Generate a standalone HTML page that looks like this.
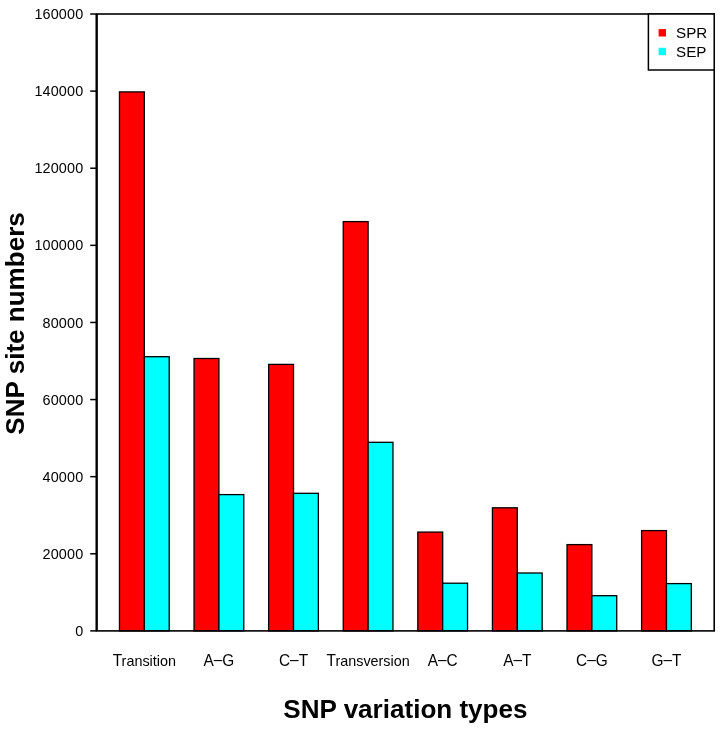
<!DOCTYPE html><html><head><meta charset="utf-8"><style>html,body{margin:0;padding:0;background:#fff}svg{display:block;will-change:transform}text{font-family:"Liberation Sans",sans-serif;fill:#000}</style></head><body>
<svg width="721" height="734" viewBox="0 0 721 734">
<rect width="721" height="734" fill="#fff"/>
<rect x="119.47" y="91.90" width="24.86" height="539.00" fill="#ff0000" stroke="#000" stroke-width="1.3"/>
<rect x="144.34" y="356.70" width="24.86" height="274.20" fill="#00ffff" stroke="#000" stroke-width="1.3"/>
<rect x="194.06" y="358.50" width="24.86" height="272.40" fill="#ff0000" stroke="#000" stroke-width="1.3"/>
<rect x="218.93" y="494.60" width="24.86" height="136.30" fill="#00ffff" stroke="#000" stroke-width="1.3"/>
<rect x="268.65" y="364.40" width="24.86" height="266.50" fill="#ff0000" stroke="#000" stroke-width="1.3"/>
<rect x="293.52" y="493.30" width="24.86" height="137.60" fill="#00ffff" stroke="#000" stroke-width="1.3"/>
<rect x="343.24" y="221.60" width="24.86" height="409.30" fill="#ff0000" stroke="#000" stroke-width="1.3"/>
<rect x="368.11" y="442.30" width="24.86" height="188.60" fill="#00ffff" stroke="#000" stroke-width="1.3"/>
<rect x="417.83" y="532.10" width="24.86" height="98.80" fill="#ff0000" stroke="#000" stroke-width="1.3"/>
<rect x="442.69" y="583.20" width="24.86" height="47.70" fill="#00ffff" stroke="#000" stroke-width="1.3"/>
<rect x="492.42" y="507.80" width="24.86" height="123.10" fill="#ff0000" stroke="#000" stroke-width="1.3"/>
<rect x="517.28" y="573.00" width="24.86" height="57.90" fill="#00ffff" stroke="#000" stroke-width="1.3"/>
<rect x="567.01" y="544.60" width="24.86" height="86.30" fill="#ff0000" stroke="#000" stroke-width="1.3"/>
<rect x="591.87" y="595.70" width="24.86" height="35.20" fill="#00ffff" stroke="#000" stroke-width="1.3"/>
<rect x="641.60" y="530.60" width="24.86" height="100.30" fill="#ff0000" stroke="#000" stroke-width="1.3"/>
<rect x="666.46" y="583.60" width="24.86" height="47.30" fill="#00ffff" stroke="#000" stroke-width="1.3"/>
<rect x="96.6" y="14.0" width="617.60" height="616.90" fill="none" stroke="#000" stroke-width="1.6"/>
<line x1="96.69999999999999" y1="14.0" x2="96.69999999999999" y2="630.9" stroke="#000" stroke-width="2.2"/>
<line x1="90.20" y1="630.90" x2="96.60" y2="630.90" stroke="#000" stroke-width="1.5"/>
<text transform="translate(83.3,636.00) scale(1,1.08)" font-size="14.4" letter-spacing="0.15" text-anchor="end">0</text>
<line x1="90.20" y1="553.79" x2="96.60" y2="553.79" stroke="#000" stroke-width="1.5"/>
<text transform="translate(83.3,558.89) scale(1,1.08)" font-size="14.4" letter-spacing="0.15" text-anchor="end">20000</text>
<line x1="90.20" y1="476.67" x2="96.60" y2="476.67" stroke="#000" stroke-width="1.5"/>
<text transform="translate(83.3,481.77) scale(1,1.08)" font-size="14.4" letter-spacing="0.15" text-anchor="end">40000</text>
<line x1="90.20" y1="399.56" x2="96.60" y2="399.56" stroke="#000" stroke-width="1.5"/>
<text transform="translate(83.3,404.66) scale(1,1.08)" font-size="14.4" letter-spacing="0.15" text-anchor="end">60000</text>
<line x1="90.20" y1="322.45" x2="96.60" y2="322.45" stroke="#000" stroke-width="1.5"/>
<text transform="translate(83.3,327.55) scale(1,1.08)" font-size="14.4" letter-spacing="0.15" text-anchor="end">80000</text>
<line x1="90.20" y1="245.34" x2="96.60" y2="245.34" stroke="#000" stroke-width="1.5"/>
<text transform="translate(83.3,250.44) scale(1,1.08)" font-size="14.4" letter-spacing="0.15" text-anchor="end">100000</text>
<line x1="90.20" y1="168.22" x2="96.60" y2="168.22" stroke="#000" stroke-width="1.5"/>
<text transform="translate(83.3,173.32) scale(1,1.08)" font-size="14.4" letter-spacing="0.15" text-anchor="end">120000</text>
<line x1="90.20" y1="91.11" x2="96.60" y2="91.11" stroke="#000" stroke-width="1.5"/>
<text transform="translate(83.3,96.21) scale(1,1.08)" font-size="14.4" letter-spacing="0.15" text-anchor="end">140000</text>
<line x1="90.20" y1="14.00" x2="96.60" y2="14.00" stroke="#000" stroke-width="1.5"/>
<text transform="translate(83.3,19.10) scale(1,1.08)" font-size="14.4" letter-spacing="0.15" text-anchor="end">160000</text>
<text transform="translate(144.34,665.7) scale(1,1.05)" font-size="14.4" text-anchor="middle"><tspan font-size="15.4">T</tspan><tspan dx="-0.5">ransition</tspan></text>
<text transform="translate(218.93,665.7) scale(1,1.07)" font-size="15.4" text-anchor="middle">A<tspan dy="-0.5">–</tspan><tspan dy="0.5">G</tspan></text>
<text transform="translate(293.52,665.7) scale(1,1.07)" font-size="15.4" text-anchor="middle">C<tspan dy="-0.5">–</tspan><tspan dy="0.5">T</tspan></text>
<text transform="translate(368.11,665.7) scale(1,1.05)" font-size="14.4" text-anchor="middle"><tspan font-size="15.4">T</tspan><tspan dx="-0.5">ransversion</tspan></text>
<text transform="translate(442.69,665.7) scale(1,1.07)" font-size="15.4" text-anchor="middle">A<tspan dy="-0.5">–</tspan><tspan dy="0.5">C</tspan></text>
<text transform="translate(517.28,665.7) scale(1,1.07)" font-size="15.4" text-anchor="middle">A<tspan dy="-0.5">–</tspan><tspan dy="0.5">T</tspan></text>
<text transform="translate(591.87,665.7) scale(1,1.07)" font-size="15.4" text-anchor="middle">C<tspan dy="-0.5">–</tspan><tspan dy="0.5">G</tspan></text>
<text transform="translate(666.46,665.7) scale(1,1.07)" font-size="15.4" text-anchor="middle">G<tspan dy="-0.5">–</tspan><tspan dy="0.5">T</tspan></text>
<text x="405.40" y="718.4" font-size="26.05" font-weight="bold" text-anchor="middle">SNP variation types</text>
<text transform="translate(24.3,323.45) rotate(-90)" font-size="26.05" font-weight="bold" text-anchor="middle">SNP site numbers</text>
<rect x="648.4" y="14.0" width="65.80" height="56.00" fill="#fff" stroke="#000" stroke-width="1.5"/>
<rect x="658.6" y="29.1" width="7.4" height="7.4" fill="#ff0000"/>
<rect x="658.6" y="47.8" width="7.4" height="7.4" fill="#00ffff"/>
<text x="676" y="38.1" font-size="15.2">SPR</text>
<text x="676" y="56.9" font-size="15.2">SEP</text>
</svg></body></html>
